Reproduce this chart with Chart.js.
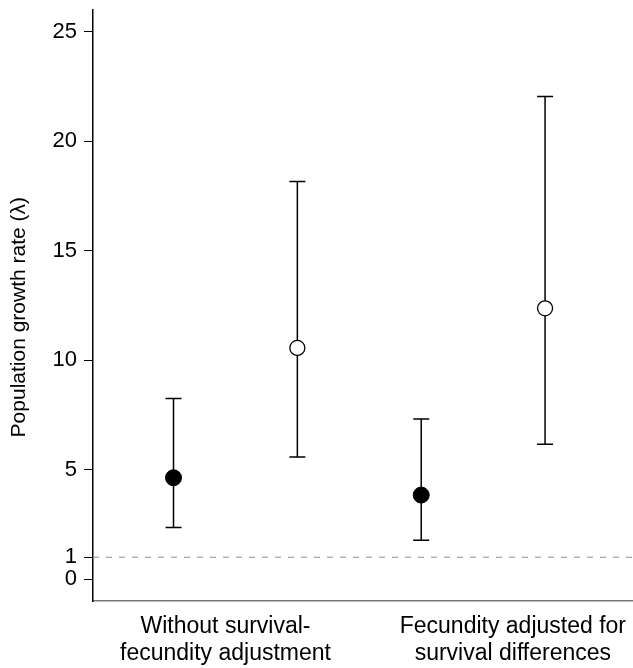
<!DOCTYPE html>
<html>
<head>
<meta charset="utf-8">
<script src="https://cdn.jsdelivr.net/npm/chart.js@4/dist/chart.umd.min.js"></script>
<style>
  body { margin: 0; background: #fff; }
  #wrap { width: 633px; height: 668px; }
</style>
</head>
<body>
<div id="wrap"><canvas id="lambdaChart"></canvas></div>
<script>
// groups on the x axis
const groupLabels = [
  ['Without survival-', 'fecundity adjustment'],
  ['Fecundity adjusted for', 'survival differences']
];
const groupLabelPos = [1.42, 3.74];

// x positions of the estimates
const filledX = [1, 3];
const openX = [2, 4];

// filled circles
const filledMean = [4.63, 3.84];
const filledLow = [2.36, 1.78];
const filledHigh = [8.25, 7.31];

// open circles
const openMean = [10.56, 12.37];
const openLow = [5.58, 6.16];
const openHigh = [18.17, 22.05];

const yTicks = [0, 1, 5, 10, 15, 20, 25];
const refLine = 1;

const FONT = 'Liberation Sans, Arial, Helvetica, sans-serif';

// error bars and the dashed reference line, drawn through the scales
const errorBars = {
  id: 'errorBars',
  beforeDatasetsDraw(chart) {
    const ctx = chart.ctx;
    const xs = chart.scales.x;
    const ys = chart.scales.y;
    const area = chart.chartArea;

    // dashed line at lambda = 1
    ctx.save();
    ctx.strokeStyle = '#8c8c8c';
    ctx.lineWidth = 1;
    ctx.setLineDash([6, 7]);
    const yr = ys.getPixelForValue(refLine);
    ctx.beginPath();
    ctx.moveTo(area.left, yr);
    ctx.lineTo(area.right, yr);
    ctx.stroke();
    ctx.restore();

    const draw = (xv, lo, hi) => {
      const x = xs.getPixelForValue(xv);
      const y1 = ys.getPixelForValue(lo);
      const y2 = ys.getPixelForValue(hi);
      ctx.beginPath();
      ctx.moveTo(x, y1);
      ctx.lineTo(x, y2);
      ctx.moveTo(x - 8, y1);
      ctx.lineTo(x + 8, y1);
      ctx.moveTo(x - 8, y2);
      ctx.lineTo(x + 8, y2);
      ctx.stroke();
    };
    ctx.save();
    ctx.strokeStyle = '#000';
    ctx.lineWidth = 1.5;
    filledX.forEach((x, i) => draw(x, filledLow[i], filledHigh[i]));
    openX.forEach((x, i) => draw(x, openLow[i], openHigh[i]));
    ctx.restore();
  }
};

const ctx = document.getElementById('lambdaChart').getContext('2d');
new Chart(ctx, {
  type: 'scatter',
  data: {
    datasets: [
      {
        label: 'filled',
        data: filledX.map((x, i) => ({ x: x, y: filledMean[i] })),
        backgroundColor: '#000',
        borderColor: '#000',
        borderWidth: 1,
        pointRadius: 8,
        pointHoverRadius: 8
      },
      {
        label: 'open',
        data: openX.map((x, i) => ({ x: x, y: openMean[i] })),
        backgroundColor: '#fff',
        borderColor: '#000',
        borderWidth: 1.3,
        pointRadius: 7.5,
        pointHoverRadius: 7.5
      }
    ]
  },
  options: {
    responsive: true,
    maintainAspectRatio: false,
    animation: false,
    layout: { autoPadding: false, padding: { top: 10, right: 0, left: 0, bottom: 0 } },
    plugins: {
      legend: { display: false },
      tooltip: { enabled: false }
    },
    scales: {
      x: {
        type: 'linear',
        min: 0.35,
        max: 4.71,
        afterBuildTicks: axis => {
          axis.ticks = groupLabelPos.map(v => ({ value: v }));
        },
        afterFit: axis => {
          axis.height = 67;
          axis.paddingLeft = 0;
          axis.paddingRight = 0;
        },
        grid: { display: false },
        border: { display: true, color: '#777', width: 1.5 },
        ticks: {
          autoSkip: false,
          maxRotation: 0,
          padding: 4,
          color: '#000',
          font: { family: FONT, size: 23, lineHeight: 1.18 },
          callback: v => {
            const i = groupLabelPos.indexOf(v);
            return i >= 0 ? groupLabels[i] : '';
          }
        }
      },
      y: {
        min: -1,
        max: 26,
        afterBuildTicks: axis => {
          axis.ticks = yTicks.map(v => ({ value: v }));
        },
        afterFit: axis => {
          axis.width = 93;
          axis.paddingTop = 0;
          axis.paddingBottom = 0;
        },
        grid: {
          drawOnChartArea: false,
          drawTicks: true,
          tickLength: 9,
          color: '#000',
          lineWidth: 1
        },
        border: { display: true, color: '#000', width: 1.5 },
        ticks: {
          padding: 7,
          color: '#000',
          font: { family: FONT, size: 22 }
        },
        title: {
          display: true,
          text: 'Population growth rate (λ)    ',
          color: '#000',
          font: { family: FONT, size: 21 },
          padding: { top: 7, bottom: 0 }
        }
      }
    }
  },
  plugins: [errorBars]
});
</script>
</body>
</html>
